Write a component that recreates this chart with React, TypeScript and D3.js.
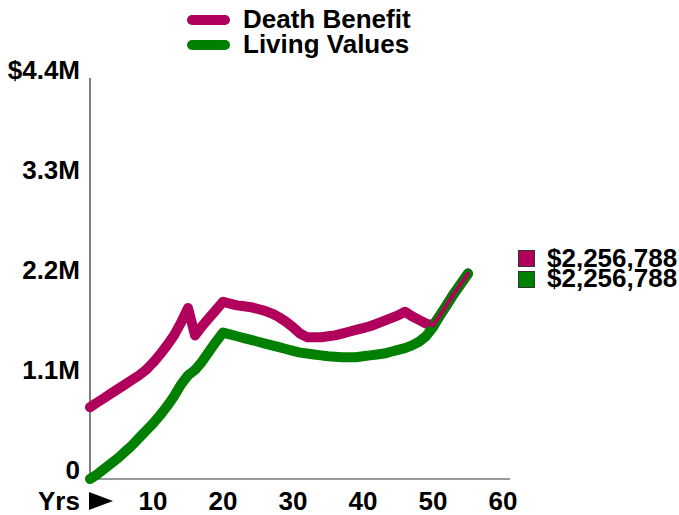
import React from "react";
import * as d3 from "d3";

const years: number[] = Array.from({ length: 55 }, (_, i) => i + 1);

const deathBenefit: number[] = [
  0.79, 0.84, 0.89, 0.94, 0.99, 1.04, 1.09, 1.14, 1.2, 1.28,
  1.37, 1.47, 1.58, 1.72, 1.88, 1.58, 1.68, 1.77, 1.86, 1.95,
  1.93, 1.91, 1.9, 1.89, 1.87, 1.85, 1.82, 1.78, 1.73, 1.67,
  1.6, 1.56, 1.56, 1.56, 1.57, 1.58, 1.6, 1.62, 1.64, 1.66,
  1.68, 1.71, 1.74, 1.77, 1.8, 1.84, 1.79, 1.75, 1.71, 1.69,
  1.8, 1.92, 2.04, 2.15, 2.26,
];

const livingValues: number[] = [
  0.0, 0.05, 0.11, 0.17, 0.23, 0.3, 0.37, 0.45, 0.53, 0.61,
  0.7, 0.8, 0.91, 1.04, 1.14, 1.2, 1.29, 1.4, 1.51, 1.61,
  1.59, 1.57, 1.55, 1.53, 1.51, 1.49, 1.47, 1.45, 1.43, 1.41,
  1.39, 1.38, 1.37, 1.36, 1.35, 1.345, 1.34, 1.34, 1.34, 1.35,
  1.36, 1.37, 1.38, 1.4, 1.42, 1.44, 1.47, 1.51, 1.57, 1.67,
  1.8, 1.92, 2.04, 2.15, 2.26,
];

const yTickValues: number[] = [0, 1.1, 2.2, 3.3, 4.4];
const yTickLabels: string[] = ["0", "1.1M", "2.2M", "3.3M", "$4.4M"];
const xTickValues: number[] = [10, 20, 30, 40, 50, 60];
const seriesNames: string[] = ["Death Benefit", "Living Values"];
const finalLabels: string[] = ["$2,256,788", "$2,256,788"];

const MAGENTA = "#b1005c";
const GREEN = "#008000";
const FONT = "'Liberation Sans', Arial, sans-serif";

export default function App() {
  const x = d3.scaleLinear().domain([1, 61]).range([90, 510]);
  const y = d3.scaleLinear().domain([0, 4.4]).range([479, 79]);

  const line = d3
    .line<number>()
    .x((_, i) => x(years[i]))
    .y((d) => y(d));

  const dbPath = line(deathBenefit) || "";
  const lvPath = line(livingValues) || "";

  const textStyle = {
    fontFamily: FONT,
    fontWeight: 700,
    fontSize: 26,
    fill: "#000",
  } as const;

  return (
    <svg
      width={679}
      height={515}
      style={{ position: "absolute", left: 0, top: 0, background: "#fff" }}
    >
      {/* legend */}
      <g>
        <line x1={192} x2={225} y1={20} y2={20} stroke={MAGENTA} strokeWidth={10} strokeLinecap="round" />
        <line x1={192} x2={225} y1={45} y2={45} stroke={GREEN} strokeWidth={10} strokeLinecap="round" />
        <text x={243} y={28} {...textStyle}>{seriesNames[0]}</text>
        <text x={243} y={53} {...textStyle}>{seriesNames[1]}</text>
      </g>

      {/* axes */}
      <line x1={90} x2={90} y1={78} y2={479} stroke="#555" strokeWidth={1.5} />
      <line x1={90} x2={510} y1={479} y2={479} stroke="#777" strokeWidth={1.5} />

      {/* y tick labels */}
      {yTickValues.map((v, i) => (
        <text key={v} x={80} y={y(v)} textAnchor="end" {...textStyle}>
          {yTickLabels[i]}
        </text>
      ))}

      {/* x tick labels */}
      <text x={38} y={510} {...textStyle}>Yrs</text>
      <polygon points="89,492 113,501 89,510" fill="#000" />
      {xTickValues.map((v) => (
        <text key={v} x={x(v)} y={510} textAnchor="middle" {...textStyle}>
          {v}
        </text>
      ))}

      {/* series */}
      <path d={dbPath} fill="none" stroke={MAGENTA} strokeWidth={10} strokeLinecap="round" strokeLinejoin="round" />
      <path d={lvPath} fill="none" stroke={GREEN} strokeWidth={10} strokeLinecap="round" strokeLinejoin="round" />
      <path d={dbPath} fill="none" stroke={MAGENTA} strokeWidth={4} strokeLinecap="round" strokeLinejoin="round" />

      {/* final value labels */}
      <rect x={518.5} y={250.5} width={16} height={16} fill={MAGENTA} stroke="#333" strokeWidth={1} />
      <rect x={518.5} y={271.5} width={16} height={16} fill={GREEN} stroke="#333" strokeWidth={1} />
      <text x={547} y={267} {...textStyle}>{finalLabels[0]}</text>
      <text x={547} y={287} {...textStyle}>{finalLabels[1]}</text>
    </svg>
  );
}
